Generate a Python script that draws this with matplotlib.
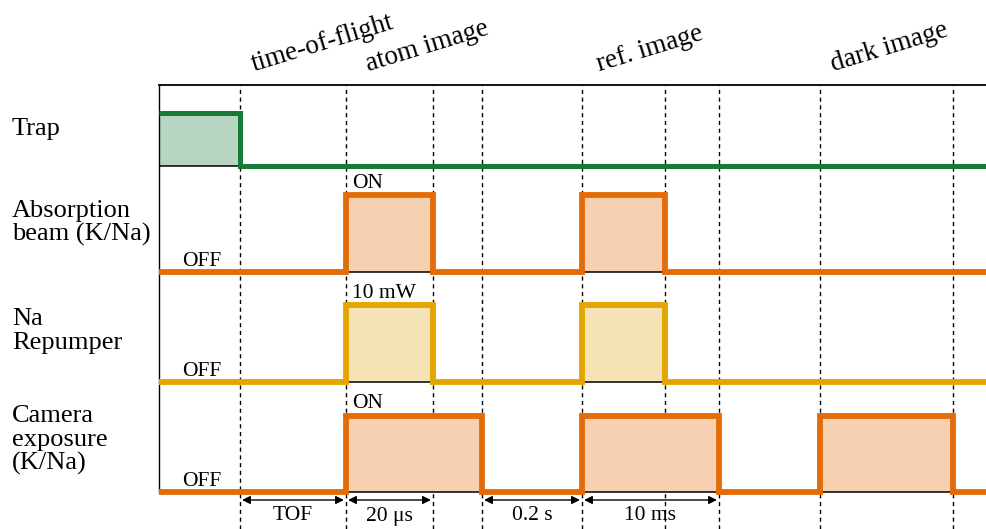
import matplotlib.pyplot as plt

plt.rcParams["font.family"] = ["Liberation Serif", "DejaVu Serif"]

# event times along the sequence (arbitrary time units, not to scale)
t_trap_off = 8.1
t_img_on = 18.7
t_img_off = 27.4
t_cam1_off = 32.3
t_ref_on = 42.3
t_ref_off = 50.6
t_cam2_off = 56.0
t_dark_on = 66.1
t_dark_off = 79.4
t_end = 82.7

channel_names = ["Trap", "Absorption\nbeam (K/Na)", "Na\nRepumper", "Camera\nexposure\n(K/Na)"]
channel_pulses = [
    [(0.0, t_trap_off)],
    [(t_img_on, t_img_off), (t_ref_on, t_ref_off)],
    [(t_img_on, t_img_off), (t_ref_on, t_ref_off)],
    [(t_img_on, t_cam1_off), (t_ref_on, t_cam2_off), (t_dark_on, t_dark_off)],
]
on_labels = [None, "ON", "10 mW", "ON"]
off_labels = [None, "OFF", "OFF", "OFF"]

phase_names = ["time-of-flight", "atom image", "ref. image", "dark image"]
phase_starts = [9.5, 20.9, 44.0, 67.4]

interval_labels = ["TOF", "20 μs", "0.2 s", "10 ms"]
interval_spans = [(t_trap_off, t_img_on), (t_img_on, t_img_off),
                  (t_cam1_off, t_ref_on), (t_ref_on, t_cam2_off)]

# layout of the rows
row_base = [3.63, 2.57, 1.47, 0.37]
row_high = [4.16, 3.34, 2.24, 1.13]
line_colors = ["#177a35", "#e36c09", "#e3a600", "#e36c09"]
fill_colors = ["#b7d6c1", "#f6d1b1", "#f6e3b5", "#f6d1b1"]
line_widths = [3.6, 4.2, 4.2, 4.2]
name_baselines = [[3.94], [3.12, 2.88], [2.04, 1.80], [1.07, 0.83, 0.59]]

fig = plt.figure(figsize=(9.86, 5.29), dpi=100)
ax = fig.add_axes([159 / 986, 0, 827 / 986, 444 / 529])
ax.set_xlim(0, t_end)
ax.set_ylim(0, 4.44)
ax.set_xticks([])
ax.set_yticks([])
ax.spines["right"].set_visible(False)
ax.spines["bottom"].set_visible(False)
ax.spines["top"].set_linewidth(1.3)
ax.spines["left"].set_linewidth(1.0)
ax.spines["left"].set_bounds(row_base[-1], 4.44)

events = [t_trap_off, t_img_on, t_img_off, t_cam1_off, t_ref_on,
          t_ref_off, t_cam2_off, t_dark_on, t_dark_off]
ax.vlines(events, 0, 4.44, colors="black", linewidth=1.0,
          linestyles=(0, (3.0, 2.6)), zorder=1)

for i in range(len(channel_names)):
    base, high = row_base[i], row_high[i]
    xs, ys = [0.0], [base]
    for start, stop in channel_pulses[i]:
        ax.fill_between([start, stop], base, high, color=fill_colors[i],
                        linewidth=0, zorder=2)
        ax.plot([start, stop], [base, base], color="black", lw=1.1, zorder=2.5)
        xs += [start, start, stop, stop]
        ys += [base, high, high, base]
    xs.append(t_end)
    ys.append(base)
    if channel_pulses[i][0][0] == 0.0:
        # signal already high at the start: no rising edge on the axis
        xs, ys = xs[2:], ys[2:]
    ax.plot(xs, ys, color=line_colors[i], lw=line_widths[i],
            solid_joinstyle="miter", solid_capstyle="butt", zorder=3,
            clip_on=False)

    for line, yb in zip(channel_names[i].split("\n"), name_baselines[i]):
        ax.text(-14.7, yb, line, fontsize=19, va="baseline", ha="left",
                clip_on=False)
    if on_labels[i]:
        ax.text(t_img_on + 0.6, high + 0.075, on_labels[i], fontsize=15.5,
                va="baseline", ha="left")
    if off_labels[i]:
        ax.text(2.3, base + 0.065, off_labels[i], fontsize=15.5,
                va="baseline", ha="left")

for name, x0 in zip(phase_names, phase_starts):
    ax.text(x0, 4.58, name, fontsize=19.5, rotation=17, rotation_mode="anchor",
            ha="left", va="baseline", clip_on=False)

for label, (a, b) in zip(interval_labels, interval_spans):
    ax.annotate("", xy=(a, 0.29), xytext=(b, 0.29),
                arrowprops=dict(arrowstyle="<|-|>", color="black", lw=1.0,
                                mutation_scale=12, shrinkA=1.5, shrinkB=1.5))
    ax.text((a + b) / 2, 0.13, label, fontsize=15.5, ha="center", va="center")

fig.savefig("out.png", dpi=100)
